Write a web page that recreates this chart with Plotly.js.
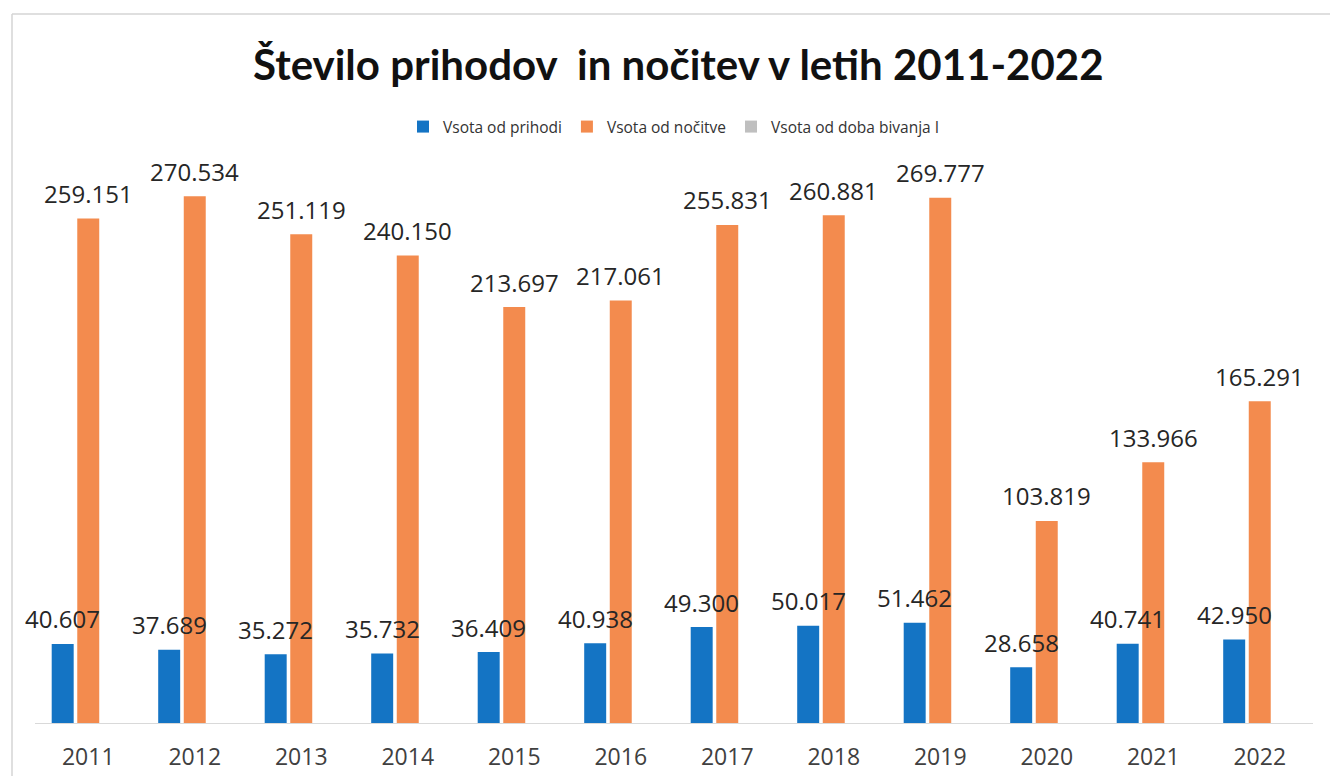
<!DOCTYPE html>
<html>
<head>
<meta charset="utf-8">
<script src="https://cdn.plot.ly/plotly-3.0.1.min.js"></script>
<style>html,body{margin:0;padding:0;background:#fff;}#chart{width:1330px;height:776px;}</style>
</head>
<body>
<div id="chart"></div>
<script>
const years = ["2011","2012","2013","2014","2015","2016","2017","2018","2019","2020","2021","2022"];
const prihodi = [40607, 37689, 35272, 35732, 36409, 40938, 49300, 50017, 51462, 28658, 40741, 42950];
const nocitve = [259151, 270534, 251119, 240150, 213697, 217061, 255831, 260881, 269777, 103819, 133966, 165291];
const dobaBivanja = [6.4, 7.2, 7.1, 6.7, 5.9, 5.3, 5.2, 5.2, 5.2, 3.6, 3.3, 3.8];
const seriesNames = ["Vsota od prihodi", "Vsota od nočitve", "Vsota od doba bivanja I"];

const W = 1330, H = 776;
const margin = {l: 35, r: 17, t: 139, b: 53};
const bargap = 0.28;
const plotW = W - margin.l - margin.r;
const plotH = H - margin.t - margin.b;
const slot = plotW / years.length * (1 - bargap) / 3;

function fmt(v) {
  return v.toString().replace(/\B(?=(\d{3})+(?!\d))/g, ".");
}

const traces = [
  {type: "bar", name: seriesNames[0], x: years, y: prihodi, marker: {color: "#1474C4"}, hoverinfo: "none"},
  {type: "bar", name: seriesNames[1], x: years, y: nocitve, marker: {color: "#F38B4E"}, hoverinfo: "none"},
  {type: "bar", name: seriesNames[2], x: years, y: dobaBivanja, marker: {color: "#BFBFBF"}, hoverinfo: "none"}
];

const labelFont = {family: "Open Sans, sans-serif", size: 24, color: "#262626"};
const annotations = [];
years.forEach((yr, i) => {
  annotations.push({x: i, y: prihodi[i], xref: "x", yref: "y", text: fmt(prihodi[i]), showarrow: false,
    xshift: -slot, yshift: 25, yanchor: "middle", font: labelFont});
  annotations.push({x: i, y: nocitve[i], xref: "x", yref: "y", text: fmt(nocitve[i]), showarrow: false,
    xshift: 0, yshift: 25, yanchor: "middle", font: labelFont});
});

const px2x = p => (p - margin.l) / plotW;
const px2y = p => (H - margin.b - p) / plotH;

const layout = {
  width: W, height: H,
  margin: margin,
  paper_bgcolor: "#ffffff",
  plot_bgcolor: "#ffffff",
  title: {
    text: "<b>Število prihodov\u00a0 in nočitev v letih 2011-2022</b>",
    font: {family: "Lato, sans-serif", size: 42, color: "#111111"},
    x: 0.51, xanchor: "center", y: 1 - 65 / H, yanchor: "middle", yref: "container"
  },
  showlegend: true,
  legend: {
    orientation: "h", x: 0.5, xanchor: "center", y: px2y(127), yanchor: "middle",
    font: {family: "Open Sans, sans-serif", size: 15.5, color: "#333333"},
    itemwidth: 30, traceorder: "normal"
  },
  barmode: "group",
  bargap: bargap,
  bargroupgap: 0.14,
  xaxis: {
    type: "category",
    range: [-0.5, years.length - 0.5],
    showline: true, linecolor: "#D9D9D9", linewidth: 1,
    ticks: "", showgrid: false, zeroline: false,
    tickfont: {family: "Open Sans, sans-serif", size: 23, color: "#404040"},
    ticklabelstandoff: 13
  },
  yaxis: {
    range: [0, 300000], visible: false, showgrid: false, zeroline: false
  },
  annotations: annotations,
  shapes: [
    {type: "line", xref: "paper", yref: "paper", x0: px2x(12), x1: px2x(1330), y0: px2y(14), y1: px2y(14),
      line: {color: "#D5D5D5", width: 1.5}},
    {type: "line", xref: "paper", yref: "paper", x0: px2x(12), x1: px2x(12), y0: px2y(14), y1: px2y(776),
      line: {color: "#D5D5D5", width: 1.5}}
  ]
};

Plotly.newPlot("chart", traces, layout, {displayModeBar: false, staticPlot: true});
</script>
</body>
</html>
